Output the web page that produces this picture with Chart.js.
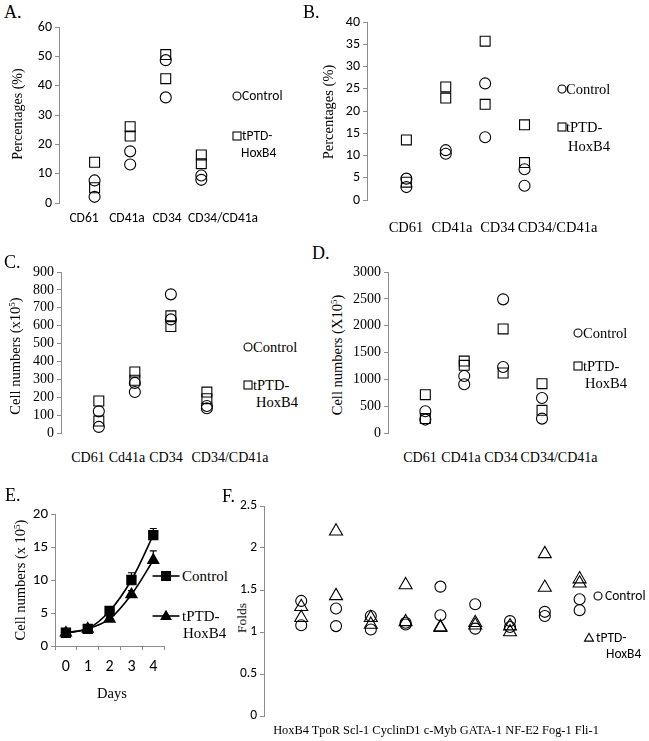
<!DOCTYPE html>
<html><head><meta charset="utf-8">
<script src="https://cdn.jsdelivr.net/npm/chart.js@4.4.1/dist/chart.umd.min.js"></script>
<style>
html,body{margin:0;padding:0;background:#fff;}
body{width:649px;height:741px;position:relative;overflow:hidden;}
.t{position:absolute;white-space:nowrap;color:#000;line-height:1;}
.serif{font-family:"Liberation Serif","Times New Roman",serif;}
.sans{font-family:Carlito,Lato,"Liberation Sans",sans-serif;}
canvas{position:absolute;}
sup{font-size:0.62em;vertical-align:0.5em;line-height:0;}
svg{position:absolute;overflow:visible;}
</style></head><body>
<script>
// ---------------- DATA ----------------
const catsAB = ['CD61', 'CD41a', 'CD34', 'CD34/CD41a'];
const catsC = ['CD61', 'Cd41a', 'CD34', 'CD34/CD41a'];
const catsD = ['CD61', 'CD41a', 'CD34', 'CD34/CD41a'];
const seriesNames = ['Control', 'tPTD-HoxB4'];

// A: percentages (two replicates per category)
const controlA = [[7.7, 2.1], [17.6, 13.1], [48.7, 36.0], [9.4, 7.9]];
const hoxA = [[13.9, 5.2], [26.0, 22.8], [50.6, 42.4], [16.4, 13.4]];
const ticksA = [0, 10, 20, 30, 40, 50, 60];

// B: percentages
const controlB = [[4.8, 2.9], [11.2, 10.4], [26.2, 14.1], [6.9, 3.2]];
const hoxB = [[13.5, 4.0], [25.4, 22.9], [35.7, 21.5], [16.9, 8.4]];
const ticksB = [0, 5, 10, 15, 20, 25, 30, 35, 40];

// C: cell numbers (x10^5)
const controlC = [[121, 34], [229, 280], [775, 635], [151, 138]];
const hoxC = [[179, 67], [341, 295], [655, 595], [229, 192]];
const ticksC = [0, 100, 200, 300, 400, 500, 600, 700, 800, 900];

// D: cell numbers (X10^5)
const controlD = [[404, 250], [1062, 907], [2490, 1230], [652, 268]];
const hoxD = [[715, 268], [1341, 1261], [1940, 1118], [920, 423]];
const ticksD = [0, 500, 1000, 1500, 2000, 2500, 3000];

// E: growth curve
const daysE = ['0', '1', '2', '3', '4'];
const controlE = [2.0, 2.6, 5.3, 10.0, 16.8];
const controlErrE = [0.1, 0.15, 0.3, 1.1, 1.0];
const hoxE = [2.0, 2.6, 4.1, 7.8, 13.0];
const hoxErrE = [0.1, 0.1, 0.3, 0.6, 1.4];
const ticksE = [0, 5, 10, 15, 20];

// F: fold change
const genesF = ['HoxB4', 'TpoR', 'Scl-1', 'CyclinD1', 'c-Myb', 'GATA-1', 'NF-E2', 'Fog-1', 'Fli-1'];
const controlF = [[1.37, 1.08], [1.28, 1.07], [1.19, 1.03], [1.11, 1.09], [1.54, 1.20], [1.33, 1.04], [1.13, 1.06], [1.24, 1.19], [1.39, 1.26]];
const hoxF = [[1.30, 1.17], [2.20, 1.43], [1.17, 1.09], [1.56, 1.12], [1.06, 1.05], [1.11, 1.08], [1.07, 1.00], [1.93, 1.53], [1.63, 1.58]];
const ticksF = [0, 0.5, 1, 1.5, 2, 2.5];

// ---------------- HELPERS ----------------
const SERIF = '"Liberation Serif", "Times New Roman", serif';
const SANS = 'Carlito, Lato, "Liberation Sans", sans-serif';
const AXIS = '#8c8c8c';

function text(html, x, y, cls, size, anchor, rot) {
  const d = document.createElement('div');
  d.className = 't ' + cls;
  d.style.fontSize = size + 'px';
  d.innerHTML = html;
  d.style.left = x + 'px';
  d.style.top = y + 'px';
  let tr = anchor === 'c' ? 'translate(-50%,-50%)' : 'translate(0,-50%)';
  if (rot) tr += ' rotate(-90deg)';
  d.style.transform = tr;
  document.body.appendChild(d);
}

function marker(kind, cx, cy, s, filled) {
  const ns = 'http://www.w3.org/2000/svg';
  const svg = document.createElementNS(ns, 'svg');
  svg.setAttribute('width', 1); svg.setAttribute('height', 1);
  svg.style.left = '0px'; svg.style.top = '0px';
  let el;
  if (kind === 'circle') {
    el = document.createElementNS(ns, 'circle');
    el.setAttribute('cx', cx); el.setAttribute('cy', cy); el.setAttribute('r', s / 2);
  } else if (kind === 'rect') {
    el = document.createElementNS(ns, 'rect');
    el.setAttribute('x', cx - s / 2); el.setAttribute('y', cy - s / 2);
    el.setAttribute('width', s); el.setAttribute('height', s);
  } else if (kind === 'tri') {
    el = document.createElementNS(ns, 'polygon');
    const h = s * 0.87;
    el.setAttribute('points', `${cx},${cy - h * 0.6} ${cx + s / 2},${cy + h * 0.4} ${cx - s / 2},${cy + h * 0.4}`);
  } else if (kind === 'line') {
    el = document.createElementNS(ns, 'line');
    el.setAttribute('x1', cx - s / 2); el.setAttribute('x2', cx + s / 2);
    el.setAttribute('y1', cy); el.setAttribute('y2', cy);
  }
  el.setAttribute('fill', filled ? '#000' : 'none');
  el.setAttribute('stroke', '#000');
  el.setAttribute('stroke-width', kind === 'line' ? 1.6 : 1.1);
  svg.appendChild(el);
  document.body.appendChild(svg);
}

function pointsFrom(groups) {
  const pts = [];
  groups.forEach((vals, i) => vals.forEach(v => pts.push({ x: i + 1, y: v })));
  return pts;
}

function yScale(ticks, yw, font) {
  return {
    min: ticks[0], max: ticks[ticks.length - 1],
    afterFit: s => { s.width = yw; },
    afterBuildTicks: s => { s.ticks = ticks.map(v => ({ value: v })); },
    ticks: { font: font, color: '#000', padding: 3, autoSkip: false, callback: v => String(v) },
    grid: { drawOnChartArea: false, drawTicks: true, tickLength: 4, color: AXIS, lineWidth: 1 },
    border: { display: true, color: AXIS, width: 1 }
  };
}

function scatterPanel(p) {
  const YW = p.yw, PT = 12, PB = 12, PR = 8;
  const plotW = (p.xMax - p.xMin) * p.step;
  const plotH = p.bottom - p.top;
  const W = Math.round(YW + plotW + PR), H = Math.round(PT + plotH + PB);
  const cv = document.createElement('canvas');
  cv.width = W; cv.height = H;
  cv.style.width = W + 'px'; cv.style.height = H + 'px';
  cv.style.left = (p.axisX - YW) + 'px';
  cv.style.top = (p.top - PT) + 'px';
  document.body.appendChild(cv);
  new Chart(cv, {
    type: 'scatter',
    data: { datasets: p.datasets },
    options: {
      responsive: false, animation: false, devicePixelRatio: 1,
      layout: { padding: { top: PT, bottom: PB, right: PR, left: 0 } },
      plugins: { legend: { display: false }, tooltip: { enabled: false } },
      scales: {
        x: { type: 'linear', display: false, min: p.xMin, max: p.xMax },
        y: yScale(p.ticks, YW, p.tickFont)
      }
    }
  });
}

function ds(label, groups, style, radius) {
  return {
    label: label, data: pointsFrom(groups),
    pointStyle: style, pointRadius: radius, pointHoverRadius: radius,
    pointBorderColor: '#000', pointBackgroundColor: 'rgba(0,0,0,0)', pointBorderWidth: 1.1
  };
}

// ---------------- PANEL A ----------------
text('A.', 4, 12, 'serif', 18, 'l');
scatterPanel({
  axisX: 59, top: 27, bottom: 203, xMin: 0, xMax: 5, step: 35.6, yw: 34,
  ticks: ticksA, tickFont: { family: SANS, size: 14 },
  datasets: [ds(seriesNames[1], hoxA, 'rect', 7), ds(seriesNames[0], controlA, 'circle', 5.5)]
});
text('Percentages (%)', 18, 114, 'serif', 14, 'c', true);
[84, 127, 167, 223].forEach((x, i) => text(catsAB[i], x, 218, 'sans', 13.5, 'c'));
marker('circle', 237, 96, 8); text(seriesNames[0], 242, 96, 'sans', 13.5, 'l');
marker('rect', 237, 136, 8); text('tPTD-', 242, 136, 'sans', 13.5, 'l');
text('HoxB4', 241, 153, 'sans', 13.5, 'l');

// ---------------- PANEL B ----------------
text('B.', 303, 12, 'serif', 18, 'l');
scatterPanel({
  axisX: 367, top: 22, bottom: 200, xMin: 0, xMax: 5, step: 39.3, yw: 30,
  ticks: ticksB, tickFont: { family: SANS, size: 14 },
  datasets: [ds(seriesNames[1], hoxB, 'rect', 7), ds(seriesNames[0], controlB, 'circle', 5.5)]
});
text('Percentages (%)', 328, 112, 'serif', 14.5, 'c', true);
[406, 452, 497.5, 557.5].forEach((x, i) => text(catsAB[i], x, 227, 'serif', 14.5, 'c'));
marker('circle', 562, 89, 8); text(seriesNames[0], 566, 89, 'serif', 14.5, 'l');
marker('rect', 562, 127, 8); text('tPTD-', 566, 127, 'serif', 14.5, 'l');
text('HoxB4', 568, 146, 'serif', 14.5, 'l');

// ---------------- PANEL C ----------------
text('C.', 4, 262, 'serif', 18, 'l');
scatterPanel({
  axisX: 61, top: 272, bottom: 433, xMin: -0.05, xMax: 5, step: 36.1, yw: 30,
  ticks: ticksC, tickFont: { family: SERIF, size: 14 },
  datasets: [ds(seriesNames[1], hoxC, 'rect', 7), ds(seriesNames[0], controlC, 'circle', 5.5)]
});
text('Cell numbers (x10<sup>5</sup>)', 15, 356, 'serif', 14.5, 'c', true);
[88, 127, 166, 230].forEach((x, i) => text(catsC[i], x, 458, 'serif', 14, 'c'));
marker('circle', 248, 347, 8); text(seriesNames[0], 253, 347, 'serif', 14.5, 'l');
marker('rect', 248, 385, 8); text('tPTD-', 253, 385, 'serif', 14.5, 'l');
text('HoxB4', 256, 402, 'serif', 14.5, 'l');

// ---------------- PANEL D ----------------
text('D.', 312, 253, 'serif', 18, 'l');
scatterPanel({
  axisX: 388, top: 272, bottom: 433, xMin: 0.04, xMax: 5, step: 38.9, yw: 40,
  ticks: ticksD, tickFont: { family: SERIF, size: 14 },
  datasets: [ds(seriesNames[1], hoxD, 'rect', 7), ds(seriesNames[0], controlD, 'circle', 5.5)]
});
text('Cell numbers (X10<sup>5</sup>)', 337, 355, 'serif', 14.5, 'c', true);
[420, 461, 501, 559].forEach((x, i) => text(catsD[i], x, 458, 'serif', 14, 'c'));
marker('circle', 578, 333, 8); text(seriesNames[0], 583, 333, 'serif', 14.5, 'l');
marker('rect', 578, 366, 8); text('tPTD-', 583, 366, 'serif', 14.5, 'l');
text('HoxB4', 585, 383, 'serif', 14.5, 'l');

// ---------------- PANEL E ----------------
text('E.', 5, 495, 'serif', 18, 'l');
(function () {
  const axisX = 55, top = 514, bottom = 646, right = 168.3;
  const YW = 30, PT = 12, PR = 4, XH = 30;
  const W = Math.round(YW + (right - axisX) + PR), H = Math.round(PT + (bottom - top) + XH);
  const cv = document.createElement('canvas');
  cv.width = W; cv.height = H;
  cv.style.width = W + 'px'; cv.style.height = H + 'px';
  cv.style.left = (axisX - YW) + 'px'; cv.style.top = (top - PT) + 'px';
  document.body.appendChild(cv);
  const errPlugin = {
    id: 'errbars',
    afterDatasetsDraw(chart) {
      const ctx = chart.ctx, ys = chart.scales.y;
      chart.data.datasets.forEach((d, di) => {
        const meta = chart.getDatasetMeta(di);
        ctx.save(); ctx.strokeStyle = '#000'; ctx.lineWidth = 1.2;
        meta.data.forEach((pt, i) => {
          const e = d.errUp[i];
          const yt = ys.getPixelForValue(d.data[i] + e);
          ctx.beginPath();
          ctx.moveTo(pt.x, pt.y); ctx.lineTo(pt.x, yt);
          ctx.moveTo(pt.x - 3.5, yt); ctx.lineTo(pt.x + 3.5, yt);
          ctx.stroke();
        });
        ctx.restore();
      });
    }
  };
  new Chart(cv, {
    type: 'line',
    data: {
      labels: daysE,
      datasets: [
        { label: seriesNames[0], data: controlE, errUp: controlErrE, borderColor: '#000', borderWidth: 1.6, tension: 0.35,
          pointStyle: 'rect', pointRadius: 6.2, pointBackgroundColor: '#000', pointBorderColor: '#000' },
        { label: seriesNames[1], data: hoxE, errUp: hoxErrE, borderColor: '#000', borderWidth: 1.6, tension: 0.35,
          pointStyle: 'triangle', pointRadius: 6, pointBackgroundColor: '#000', pointBorderColor: '#000' }
      ]
    },
    options: {
      responsive: false, animation: false, devicePixelRatio: 1,
      layout: { padding: { top: PT, bottom: 0, right: PR, left: 0 } },
      plugins: { legend: { display: false }, tooltip: { enabled: false } },
      scales: {
        x: {
          type: 'category', offset: true,
          afterFit: s => { s.height = XH; },
          ticks: { font: { family: SANS, size: 16 }, color: '#000', padding: 7 },
          grid: { offset: true, drawOnChartArea: false, drawTicks: true, tickLength: 4, color: AXIS },
          border: { display: true, color: AXIS }
        },
        y: yScale(ticksE, YW, { family: SANS, size: 15 })
      }
    },
    plugins: [errPlugin]
  });
})();
text('Cell numbers (x 10<sup>5</sup>)', 20, 580, 'serif', 14.5, 'c', true);
text('Days', 112, 693, 'serif', 14.5, 'c');
marker('line', 166, 576, 27); marker('rect', 166, 576, 9, true);
text(seriesNames[0], 182, 576, 'serif', 15, 'l');
marker('line', 166, 616, 27); marker('tri', 166, 616, 10, true);
text('tPTD-', 182, 616, 'serif', 15, 'l');
text('HoxB4', 183, 633, 'serif', 15, 'l');

// ---------------- PANEL F ----------------
text('F.', 222, 496, 'serif', 18, 'l');
scatterPanel({
  axisX: 264, top: 506, bottom: 716, xMin: -0.07, xMax: 10, step: 34.84, yw: 28,
  ticks: ticksF, tickFont: { family: SANS, size: 13.5 },
  datasets: [ds(seriesNames[1], hoxF, 'triangle', 7.5), ds(seriesNames[0], controlF, 'circle', 5.5)]
});
text('Folds', 242, 618, 'serif', 13.5, 'c', true);
text(genesF.join(' '), 436, 730, 'serif', 12.4, 'c');
marker('circle', 598, 596, 8); text(seriesNames[0], 605, 596, 'sans', 13.5, 'l');
marker('tri', 589, 638, 9); text('tPTD-', 596, 638, 'sans', 13.5, 'l');
text('HoxB4', 606, 654, 'sans', 13.5, 'l');
</script>
</body></html>
